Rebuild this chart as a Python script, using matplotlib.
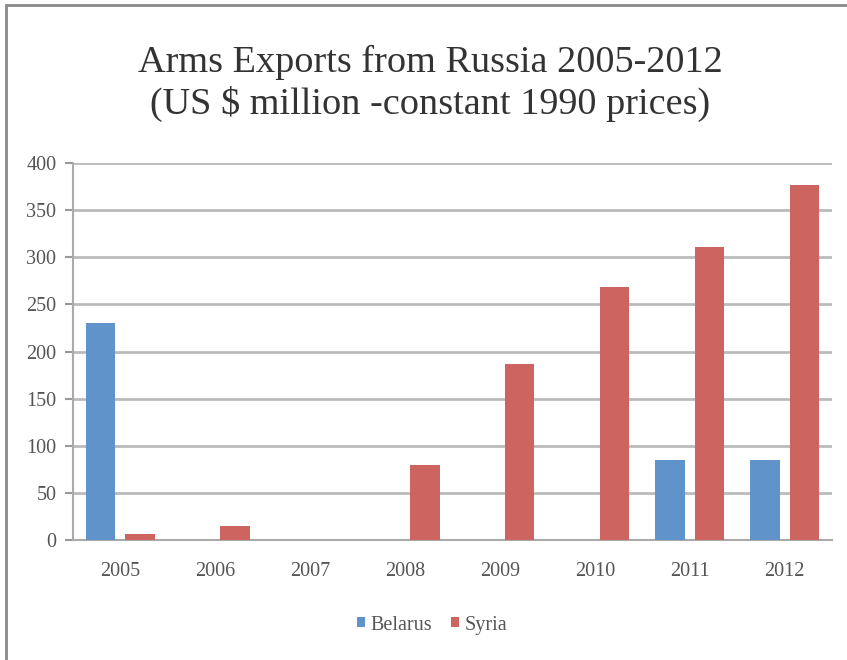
import numpy as np
import matplotlib.pyplot as plt
from matplotlib.patches import Rectangle

plt.rcParams['font.family'] = ['Liberation Serif', 'DejaVu Serif']

# data
years = ['2005', '2006', '2007', '2008', '2009', '2010', '2011', '2012']
belarus = [230, 0, 0, 0, 0, 0, 85, 85]
syria = [6, 15, 0, 80, 187, 268, 311, 377]
yticks = [0, 50, 100, 150, 200, 250, 300, 350, 400]

fig = plt.figure(figsize=(8.47, 6.6), dpi=100)
ax = fig.add_axes([0.0862, 0.1818, 0.8961, 0.5712])

x = np.arange(len(years))
w = 0.31
ax.bar(x - 0.208, belarus, w, color='#5F93CA', label='Belarus', zorder=3)
ax.bar(x + 0.208, syria, w, color='#CC6560', label='Syria', zorder=3)

ax.set_xlim(-0.5, 7.5)
ax.set_ylim(0, 400)
ax.set_yticks(yticks)
ax.set_xticks(x)
ax.set_xticklabels(years)
ax.grid(axis='y', color='#BBBBBB', linewidth=2, zorder=0)
ax.tick_params(axis='y', colors='#999999', length=6, width=1.5, labelcolor='#555555',
               labelsize=14.5, pad=6)
ax.tick_params(axis='x', length=0, labelcolor='#555555', labelsize=14.5, pad=16)
for s in ['top', 'right']:
    ax.spines[s].set_visible(False)
ax.spines['left'].set_color('#AAAAAA')
ax.spines['bottom'].set_color('#AAAAAA')
ax.spines['left'].set_linewidth(1.5)
ax.spines['bottom'].set_linewidth(1.5)

fig.text(0.508, 0.905, 'Arms Exports from Russia 2005-2012', ha='center', va='center',
         fontsize=27.5, color='#333333')
fig.text(0.508, 0.843, '(US $ million -constant 1990 prices)', ha='center', va='center',
         fontsize=27.5, color='#333333')

fig.legend(loc='center', bbox_to_anchor=(0.51, 0.053), ncol=2, frameon=False,
           fontsize=14.5, handlelength=0.4, handleheight=0.4, handletextpad=0.3,
           columnspacing=0.9, labelcolor='#555555')

# outer frame of the embedded chart
fig.patches.append(Rectangle((0.007, -0.05), 1.1, 1.042, transform=fig.transFigure,
                             fill=False, edgecolor='#8A8A8A', linewidth=2))

fig.savefig('out.png', dpi=100)
